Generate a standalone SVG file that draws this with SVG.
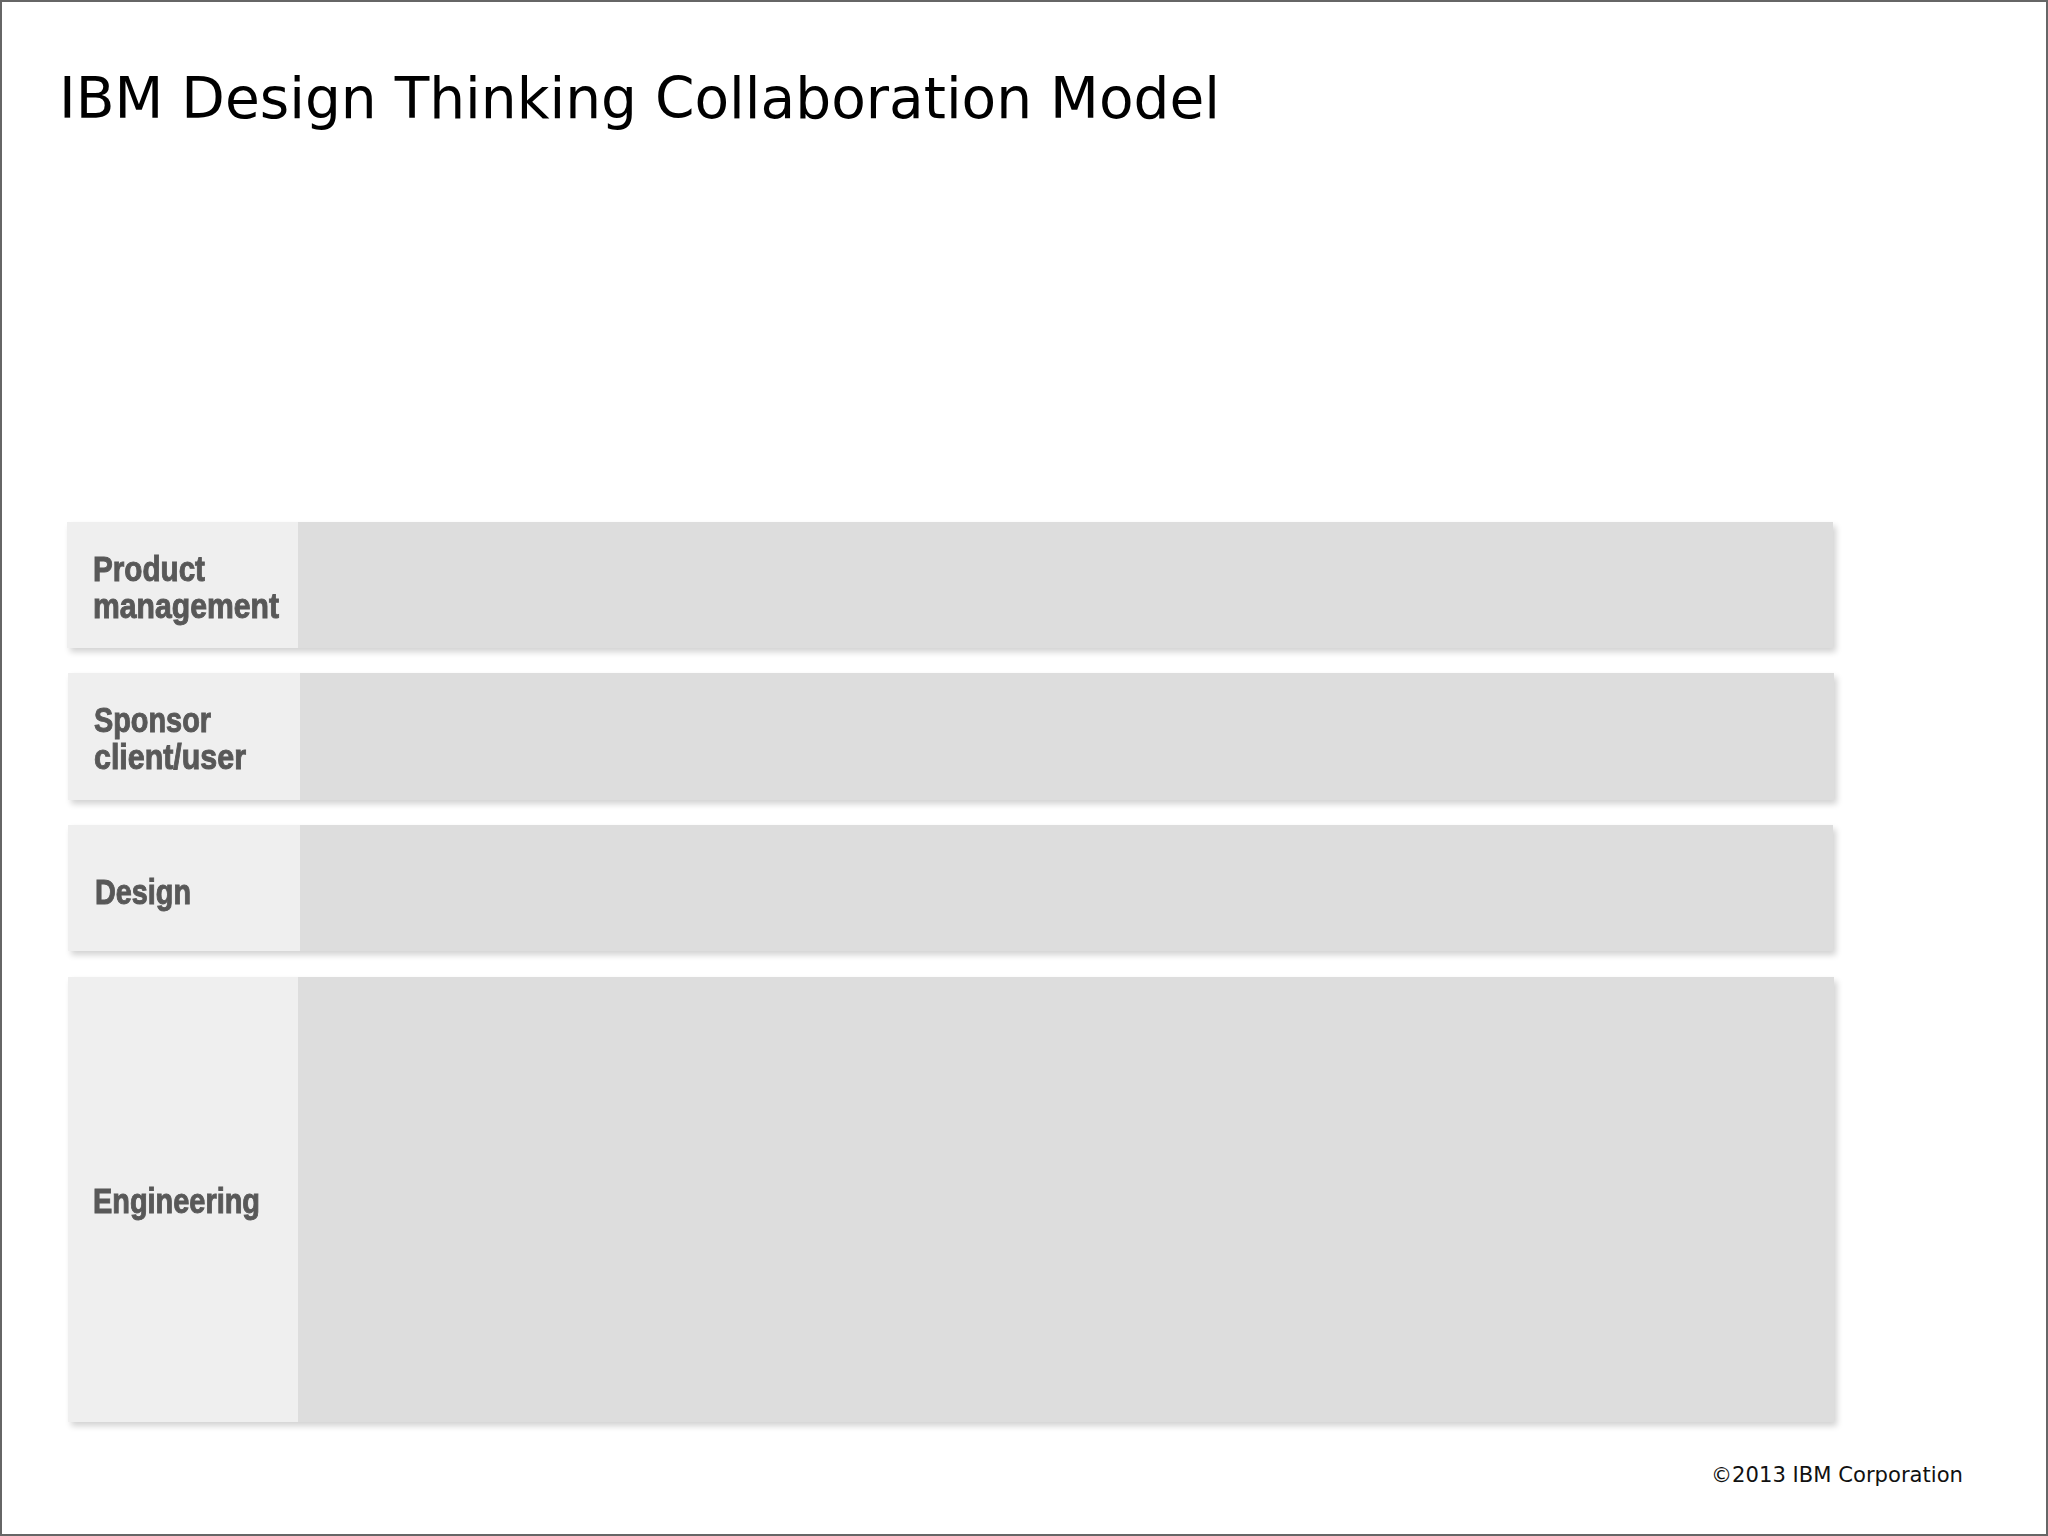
<svg xmlns="http://www.w3.org/2000/svg" width="2048" height="1536" viewBox="0 0 2048 1536">
  <defs>
    <filter id="shadow" x="-5%" y="-20%" width="110%" height="140%">
      <feGaussianBlur in="SourceAlpha" stdDeviation="3"/>
      <feOffset dx="3" dy="4" result="b"/>
      <feComponentTransfer><feFuncA type="linear" slope="0.18"/></feComponentTransfer>
      <feMerge><feMergeNode/><feMergeNode in="SourceGraphic"/></feMerge>
    </filter>
  </defs>
  <style>
    .lane { fill: #dddddd; }
    .head { fill: #efefef; }
    .lbl { font-family: "Liberation Sans", Arial, sans-serif; font-weight: bold; font-size: 35px; fill: #595959; stroke: #595959; stroke-width: 1; }
    .title { font-family: "DejaVu Sans", "Liberation Sans", sans-serif; font-size: 57px; fill: #000; }
    .copy { font-family: "DejaVu Sans", "Liberation Sans", sans-serif; font-size: 22px; fill: #111; }
  </style>
  <rect x="0" y="0" width="2048" height="1536" fill="#ffffff"/>
  <rect x="1" y="1" width="2046" height="1534" fill="none" stroke="#666666" stroke-width="2"/>

  <text class="title" x="59" y="118" textLength="1161" lengthAdjust="spacingAndGlyphs">IBM Design Thinking Collaboration Model</text>

  <g id="lane-product-management" filter="url(#shadow)">
    <rect class="lane" x="67" y="522" width="1766" height="126"/>
    <rect class="head" x="67" y="522" width="231" height="126"/>
    <text class="lbl" x="93" y="581" textLength="112" lengthAdjust="spacingAndGlyphs">Product</text>
    <text class="lbl" x="93" y="618" textLength="186" lengthAdjust="spacingAndGlyphs">management</text>
  </g>

  <g id="lane-sponsor" filter="url(#shadow)">
    <rect class="lane" x="68" y="673" width="1766" height="127"/>
    <rect class="head" x="68" y="673" width="232" height="127"/>
    <text class="lbl" x="94" y="732" textLength="117" lengthAdjust="spacingAndGlyphs">Sponsor</text>
    <text class="lbl" x="94" y="769" textLength="152" lengthAdjust="spacingAndGlyphs">client/user</text>
  </g>

  <g id="lane-design" filter="url(#shadow)">
    <rect class="lane" x="68" y="825" width="1765" height="126"/>
    <rect class="head" x="68" y="825" width="232" height="126"/>
    <text class="lbl" x="95" y="904" textLength="96" lengthAdjust="spacingAndGlyphs">Design</text>
  </g>

  <g id="lane-engineering" filter="url(#shadow)">
    <rect class="lane" x="68" y="977" width="1766" height="445"/>
    <rect class="head" x="68" y="977" width="230" height="445"/>
    <text class="lbl" x="93" y="1213" textLength="167" lengthAdjust="spacingAndGlyphs">Engineering</text>
  </g>

  <g id="connectors"/>

  <text class="copy" x="1711" y="1482" textLength="252" lengthAdjust="spacingAndGlyphs">©2013 IBM Corporation</text>
</svg>
